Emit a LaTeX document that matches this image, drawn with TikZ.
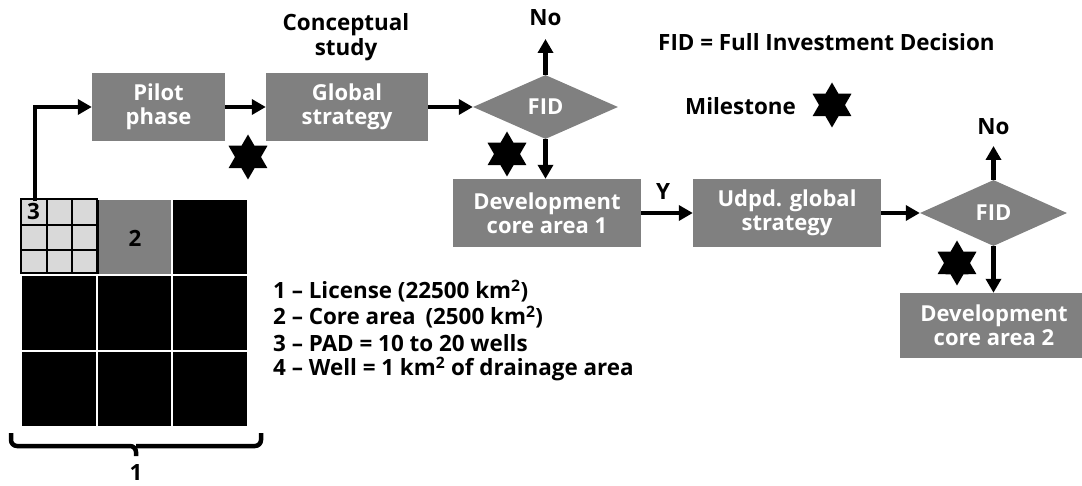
\documentclass[tikz,border=0pt]{standalone}
\usepackage{fontspec}
\setmainfont{Open Sans}
\usetikzlibrary{arrows.meta,shapes.geometric}
\definecolor{boxgray}{RGB}{128,128,128}
\definecolor{padgray}{RGB}{217,217,217}
\begin{document}
\begin{tikzpicture}[x=1pt,y=-1pt,
  font=\fontsize{22.4}{24.5}\selectfont\bfseries,
  box/.style={fill=boxgray, text=white, align=center, inner sep=0pt, font=\fontsize{22}{24}\selectfont\bfseries},
  decision/.style={diamond, fill=boxgray, text=white, inner sep=0pt, aspect=2.2, font=\fontsize{22}{24}\selectfont\bfseries},
  arr/.style={line width=4.5pt, -{Triangle[length=14pt,width=15pt]}},
  mstar/.style={star, star points=6, star point ratio=1.732, fill=black, inner sep=0pt, minimum size=45pt},
  lbl/.style={inner sep=0pt, align=center},
  legend/.style={inner sep=0pt, anchor=west}
]
\useasboundingbox (0,0) rectangle (1082,486);
\clip (0,0) rectangle (1082,486);

% ---- grid (license) ----
\foreach \i in {0,1,2}{
  \foreach \j in {0,1,2}{
    \fill[black] ({21+75.7*\i+1},{199+76*\j+1}) rectangle ({21+75.7*(\i+1)-1},{199+76*(\j+1)-1});
  }
}
\fill[white] (21,199) rectangle (98,275);
\fill[boxgray] (98.7,200) rectangle (171.4,274);
\fill[padgray] (21,199) rectangle (96.7,273);
\draw[line width=1.8pt] (21,199) rectangle (96.7,273);
\draw[line width=1.8pt] (46.7,199) -- (46.7,273) (71.7,199) -- (71.7,273)
  (21,225) -- (96.7,225) (21,250) -- (96.7,250);
\node[lbl] (pad) at (33.5,212) {3};
\node[lbl] (core) at (135,238) {2};

% ---- brace ----
\draw[line width=4.5pt, rounded corners=6pt] (11,433) -- (11,446) -- (136,446) -- (136,456);
\draw[line width=4.5pt, rounded corners=6pt] (261,433) -- (261,446) -- (136,446);
\node[lbl] (one) at (136,473) {1};

% ---- legend ----
\node[legend] (l1) at (273,291) {1 – License (22500 km\textsuperscript{2})};
\node[legend] (l2) at (273,317) {2 – Core area\hspace{4pt} (2500 km\textsuperscript{2})};
\node[legend] (l3) at (273,343) {3 – PAD = 10 to 20 wells};
\node[legend] (l4) at (273,369) {4 – Well = 1 km\textsuperscript{2} of drainage area};

% ---- process boxes ----
\node[box, minimum width=133pt, minimum height=68pt] (pilot) at (158.5,107) {Pilot\\phase};
\node[box, minimum width=162pt, minimum height=68pt] (global) at (347,107) {Global\\strategy};
\node[lbl] (concept) at (346,37) {Conceptual\\study};
\node[decision, minimum width=145pt, minimum height=64pt] (fid1) at (545.5,107) {FID};
\node[box, minimum width=188pt, minimum height=68pt] (dev1) at (547,213) {Development\\core area 1};
\node[box, minimum width=188pt, minimum height=68pt] (udpd) at (787,213) {Udpd. global\\strategy};
\node[decision, minimum width=147pt, minimum height=66pt] (fid2) at (993.5,213) {FID};
\node[box, minimum width=188pt, minimum height=65pt] (dev2) at (994,325.5) {Development\\core area 2};

\node[lbl] (no1) at (545.5,18) {No};
\node[lbl] (no2) at (993.5,127) {No};
\node[lbl] (ylab) at (663,192) {Y};
\coordinate (no1end) at (545.5,39);
\coordinate (no2end) at (993.5,146);
\coordinate (gridtop) at (35,201);

% ---- connectors ----
\draw[arr] (gridtop) |- (pilot.west);
\draw[arr] (pilot.east) -- (global.west);
\draw[arr] (global.east) -- (fid1.west);
\draw[arr] (fid1.north) -- (no1end);
\draw[arr] (fid1.south) -- (fid1.south |- dev1.north);
\draw[arr] (dev1.east) -- (udpd.west);
\draw[arr] (udpd.east) -- (fid2.west);
\draw[arr] (fid2.north) -- (no2end);
\draw[arr] (fid2.south) -- (fid2.south |- dev2.north);

% ---- milestones ----
\node[mstar] (m1) at (248,157) {};
\node[mstar] (m2) at (507,154) {};
\node[mstar] (m3) at (957,263) {};
\node[mstar] (m4) at (832,105) {};
\node[legend] (milestone) at (685,106) {Milestone};
\node[legend] (fiddef) at (658,42) {FID = Full Investment Decision};
\end{tikzpicture}
\end{document}
